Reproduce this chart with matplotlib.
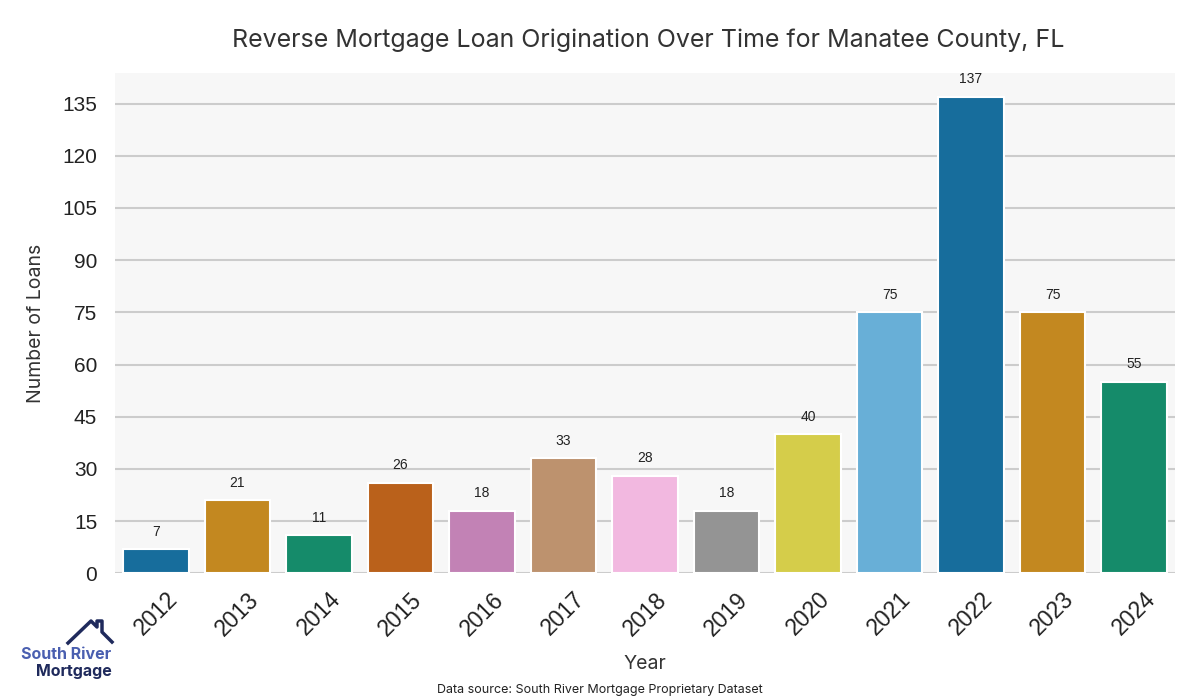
import matplotlib
matplotlib.use("Agg")
import matplotlib.pyplot as plt
import seaborn as sns

years = ["2012", "2013", "2014", "2015", "2016", "2017", "2018",
         "2019", "2020", "2021", "2022", "2023", "2024"]
loans = [7, 21, 11, 26, 18, 33, 28, 18, 40, 75, 137, 75, 55]
yticks = [0, 15, 30, 45, 60, 75, 90, 105, 120, 135]

# seaborn barplot look: colorblind palette, saturation 0.75
palette = sns.color_palette("colorblind", 10, desat=0.75)
colors = [palette[i % 10] for i in range(len(years))]

TFONT = ["Inter", "DejaVu Sans"]
NFONT = ["Liberation Sans", "DejaVu Sans"]

fig = plt.figure(figsize=(12, 7), dpi=100)
ax = fig.add_axes([0.096, 0.181, 0.883, 0.715])
ax.set_facecolor("#f7f7f7")

x = range(len(years))
ax.bar(x, loans, width=0.8, color=colors, edgecolor="white",
       linewidth=1.5, zorder=3)
for xi, v in zip(x, loans):
    ax.text(xi, v + 3.0, str(v), ha="center", va="bottom", fontsize=10,
            family=NFONT, color="#222222", zorder=4)

ax.set_xlim(-0.5, len(years) - 0.5)
ax.set_ylim(0, max(loans) * 1.05)
ax.set_yticks(yticks)
ax.set_yticklabels([str(t) for t in yticks], family=NFONT, fontsize=15,
                   color="#222222")
ax.set_xticks(list(x))
ax.set_xticklabels(years, rotation=45, family=NFONT, fontsize=16.5,
                   color="#222222")
ax.tick_params(axis="y", length=0, pad=13)
ax.tick_params(axis="x", length=0, pad=10.5)
ax.grid(axis="y", color="#cccccc", linewidth=1.5, zorder=0)
for s in ax.spines.values():
    s.set_visible(False)

ax.set_ylabel("Number of Loans", family=TFONT, fontsize=14, color="#333333",
              labelpad=12)
ax.set_xlabel("Year", family=TFONT, fontsize=14, color="#333333", labelpad=11)
fig.text(0.54, 0.942, "Reverse Mortgage Loan Origination Over Time for Manatee County, FL",
         ha="center", va="center", family=TFONT, fontsize=18, color="#333333")
fig.text(0.5, 0.015, "Data source: South River Mortgage Proprietary Dataset",
         ha="center", va="center", family=TFONT, fontsize=9, color="#222222")

# logo
fig.text(0.093, 0.065, "South River", ha="right", va="center", family=TFONT,
         fontsize=11.5, fontweight="bold", color="#4a5fb0")
fig.text(0.093, 0.041, "Mortgage", ha="right", va="center", family=TFONT,
         fontsize=11.5, fontweight="bold", color="#1f2a5c")
hx = [68, 91, 97, 97, 102, 102, 112]
hy = [643, 621, 627, 621, 621, 632, 642]
fig.add_artist(plt.Line2D([v / 1200 for v in hx], [1 - v / 700 for v in hy],
                          transform=fig.transFigure, color="#1f2a5c", lw=2.5))

fig.savefig("out.png", dpi=100)
